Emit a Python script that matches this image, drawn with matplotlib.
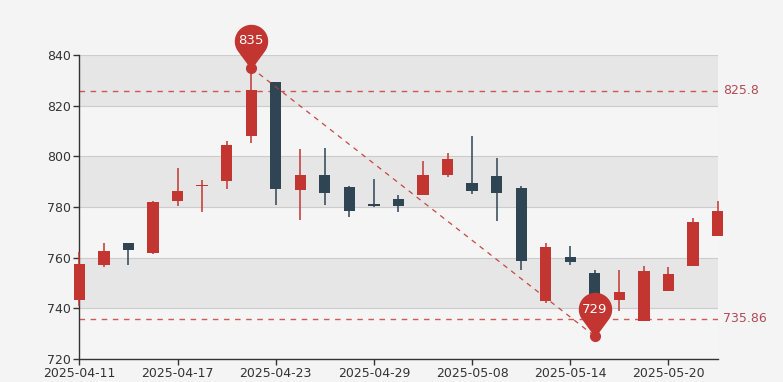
import numpy as np
import matplotlib
matplotlib.use("Agg")
import matplotlib.pyplot as plt
from matplotlib.path import Path

# ── Data ────────────────────────────────────────────────────────────────────

dates = [
    "2025-04-11", "2025-04-14", "2025-04-15", "2025-04-16", "2025-04-17",
    "2025-04-18", "2025-04-21", "2025-04-22", "2025-04-23", "2025-04-24",
    "2025-04-25", "2025-04-28", "2025-04-29", "2025-04-30", "2025-05-06",
    "2025-05-07", "2025-05-08", "2025-05-09", "2025-05-12", "2025-05-13",
    "2025-05-14", "2025-05-15", "2025-05-16", "2025-05-19", "2025-05-20",
    "2025-05-21", "2025-05-22",
]
opens  = [743.3, 757.0, 765.6, 762.0, 782.2, 788.3, 790.1, 808.2, 829.3, 786.9,
          792.8, 788.0, 781.2, 783.3, 784.9, 792.8, 789.3, 792.3, 787.4, 742.9,
          760.3, 754.1, 743.3, 735.0, 746.9, 756.9, 768.5]
closes = [757.5, 762.8, 762.9, 782.0, 786.4, 788.8, 804.6, 826.2, 787.0, 792.8,
          785.5, 778.5, 780.3, 780.2, 792.6, 798.9, 786.5, 785.5, 758.8, 764.2,
          758.3, 745.0, 746.6, 754.8, 753.7, 774.1, 778.6]
lows   = [741.0, 756.5, 757.1, 761.6, 780.2, 778.0, 787.2, 805.1, 780.6, 775.0,
          780.6, 776.2, 780.0, 778.2, 784.7, 791.9, 785.1, 774.3, 755.0, 742.2,
          757.1, 729.0, 739.1, 735.0, 746.9, 756.9, 768.5]
highs  = [762.1, 765.7, 765.8, 782.2, 795.5, 790.7, 806.1, 835.0, 829.5, 802.7,
          803.2, 788.2, 791.1, 784.9, 798.0, 801.3, 808.2, 799.3, 788.1, 765.8,
          764.5, 755.0, 755.0, 756.9, 756.3, 775.8, 782.4]

ref_levels = [825.8, 735.86]
max_idx, max_val = 7, 835
min_idx, min_val = 21, 729

UP = "#c23531"
DOWN = "#2f4554"
BG = "#f4f4f4"

fig = plt.figure(figsize=(7.83, 3.82), dpi=100, facecolor=BG)
ax = fig.add_axes([0.1013, 0.0602, 0.8151, 0.7958])
ax.set_facecolor(BG)

x = np.arange(len(dates))
o = np.array(opens)
c = np.array(closes)
colors = [UP if cc >= oo else DOWN for oo, cc in zip(o, c)]

# split areas + grid
bands = ["#f5f5f5", "#e6e6e6"]
yt = np.arange(720, 841, 20)
for i in range(len(yt) - 1):
    ax.axhspan(yt[i], yt[i + 1], color=bands[i % 2], lw=0, zorder=0)
for v in yt:
    ax.axhline(v, color="#cccccc", lw=0.8, zorder=1)

# candles
ax.vlines(x, lows, highs, colors=colors, lw=1.1, zorder=3, clip_on=False)
ax.bar(x, np.abs(c - o), bottom=np.minimum(o, c), width=0.46, color=colors,
       zorder=4, clip_on=False)

# horizontal mark lines
for lv in ref_levels:
    ax.axhline(lv, color=UP, lw=1, ls=(0, (4, 4)), alpha=0.8, zorder=2)
    ax.text(1.008, lv, f"{lv}", transform=ax.get_yaxis_transform(),
            color="#b04a58", fontsize=9, va="center", ha="left")

# trend line max -> min
ax.plot([max_idx, min_idx], [max_val, min_val], color=UP, lw=0.9,
        ls=(0, (4, 4)), alpha=0.9, zorder=5)
ax.plot([max_idx, min_idx], [max_val, min_val], ls="none", marker="o",
        markersize=7, color=UP, zorder=6, clip_on=False)

# pin markers
r, cy = 16.0, 27.0
phi = np.arccos(r / cy)
angs = np.linspace(-np.pi / 2 + phi, 3 * np.pi / 2 - phi, 60)
verts = [(0, 0)] + [(r * np.cos(a), cy + r * np.sin(a)) for a in angs] + [(0, 0)]
pin = Path(verts, [Path.MOVETO] + [Path.LINETO] * (len(verts) - 2) + [Path.CLOSEPOLY])
ms = 2 * (cy + r) * 0.72
for xi, yi in [(max_idx, max_val), (min_idx, min_val)]:
    ax.plot(xi, yi, marker=pin, markersize=ms, color=UP, ls="none",
            zorder=7, clip_on=False)
    ax.annotate(f"{yi}", xy=(xi, yi), xytext=(0, cy * 0.72),
                textcoords="offset points", ha="center", va="center",
                color="white", fontsize=9.5, zorder=8)

ax.set_xlim(0, len(dates) - 1)
ax.set_ylim(720, 840)
ax.set_yticks(yt)
ax.set_xticks(x[::4])
ax.set_xticklabels([dates[i] for i in x[::4]])
ax.tick_params(colors="#333333", labelsize=9, length=4, width=1)
ax.tick_params(axis="x", pad=2)
ax.tick_params(axis="y", pad=2)
for s in ["top", "right"]:
    ax.spines[s].set_visible(False)
for s in ["left", "bottom"]:
    ax.spines[s].set_color("#333333")
    ax.spines[s].set_linewidth(1)

fig.savefig("out.png", dpi=100, facecolor=BG)
